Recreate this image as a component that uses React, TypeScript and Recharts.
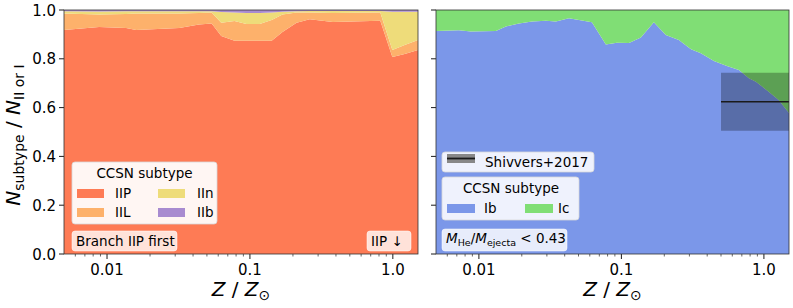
import React from 'react';
import { AreaChart, Area, XAxis, YAxis, ReferenceArea, ReferenceLine } from 'recharts';

// ---- data: left panel (Type II subtypes), fractions per metallicity ----
const zLeft = [0.005, 0.0088, 0.0136, 0.016, 0.032, 0.044, 0.054, 0.063, 0.078, 0.0945, 0.117, 0.142, 0.169, 0.212, 0.262, 0.38, 0.817, 0.992, 1.21, 1.5];
const fracIIP = [0.918, 0.93, 0.926, 0.918, 0.926, 0.941, 0.945, 0.893, 0.874, 0.874, 0.874, 0.874, 0.91, 0.948, 0.962, 0.951, 0.956, 0.807, 0.82, 0.836];
const fracIIL = [0.068, 0.052, 0.058, 0.068, 0.06, 0.047, 0.045, 0.055, 0.081, 0.069, 0.069, 0.085, 0.072, 0.042, 0.028, 0.037, 0.034, 0.029, 0.037, 0.041];
const fracIIn = [0.009, 0.012, 0.011, 0.009, 0.009, 0.007, 0.005, 0.044, 0.035, 0.045, 0.045, 0.031, 0.011, 0.005, 0.006, 0.008, 0.006, 0.157, 0.136, 0.116];
const fracIIb = [0.005, 0.006, 0.005, 0.005, 0.005, 0.005, 0.005, 0.008, 0.01, 0.012, 0.012, 0.01, 0.007, 0.005, 0.004, 0.004, 0.004, 0.007, 0.007, 0.007];

// ---- data: right panel (stripped-envelope subtypes) ----
const zRight = [0.005, 0.00724, 0.00879, 0.01316, 0.01546, 0.0191, 0.0236, 0.0295, 0.0347, 0.0428, 0.0621, 0.0778, 0.0929, 0.113, 0.137, 0.169, 0.205, 0.253, 0.308, 0.361, 0.446, 0.55, 0.668, 0.785, 0.879, 1.08, 1.27, 1.5];
const fracIb = [0.914, 0.917, 0.912, 0.914, 0.932, 0.945, 0.953, 0.956, 0.953, 0.966, 0.95, 0.859, 0.866, 0.865, 0.887, 0.95, 0.898, 0.877, 0.839, 0.823, 0.791, 0.77, 0.754, 0.72, 0.706, 0.665, 0.631, 0.578];
const fracIc = [0.086, 0.083, 0.088, 0.086, 0.068, 0.055, 0.047, 0.044, 0.047, 0.034, 0.05, 0.141, 0.134, 0.135, 0.113, 0.05, 0.102, 0.123, 0.161, 0.177, 0.209, 0.23, 0.246, 0.28, 0.294, 0.335, 0.369, 0.422];

// Shivvers+2017 observed Ib fraction (range and central value)
const shivZ = [0.5, 1.5];
const shivFrac = { low: 0.505, mid: 0.624, high: 0.743 };

// ---- axes ----
const zDomain = [0.005, 1.5];
const xMajorTicks = [0.01, 0.1, 1];
const xMinorTicks = [0.006, 0.007, 0.008, 0.009, 0.02, 0.03, 0.04, 0.05, 0.06, 0.07, 0.08, 0.09, 0.2, 0.3, 0.4, 0.5, 0.6, 0.7, 0.8, 0.9];
const xAllTicks = [...xMinorTicks, ...xMajorTicks].sort((a, b) => a - b);
const yTicks = [0, 0.2, 0.4, 0.6, 0.8, 1.0];

const leftData = zLeft.map((z, i) => ({ z, IIP: fracIIP[i], IIL: fracIIL[i], IIn: fracIIn[i], IIb: fracIIb[i] }));
const rightData = zRight.map((z, i) => ({ z, Ib: fracIb[i], Ic: fracIc[i] }));

const C = {
  IIP: '#fe7b55',
  IIL: '#fdb16b',
  IIn: '#eedc7a',
  IIb: '#a88bd0',
  Ib: '#7b97e9',
  Ic: '#80de75',
};

const FONT = 'DejaVu Sans';
const fmtX = (v: number) => (v === 1 ? '1.0' : String(v));

function XTick(props: any) {
  const { x, y, payload } = props;
  const v = payload.value;
  const major = xMajorTicks.some((m) => Math.abs(m - v) < 1e-9);
  return (
    <g>
      <line x1={x} x2={x} y1={y} y2={y + (major ? 5 : 2.5)} stroke="#000" strokeWidth={major ? 0.9 : 0.6} />
      {major && (
        <text x={x} y={y + 21} textAnchor="middle" fontSize={15} fontFamily={FONT} fill="#000">
          {fmtX(v)}
        </text>
      )}
    </g>
  );
}

function makeYTick(showLabel: boolean) {
  return function YTick(props: any) {
    const { x, y, payload } = props;
    return (
      <g>
        <line x1={x - 5} x2={x} y1={y} y2={y} stroke="#000" strokeWidth={0.9} />
        {showLabel && (
          <text x={x - 8} y={y + 5.5} textAnchor="end" fontSize={15} fontFamily={FONT} fill="#000">
            {payload.value.toFixed(1)}
          </text>
        )}
      </g>
    );
  };
}
const YTickLabeled = makeYTick(true);
const YTickBare = makeYTick(false);

function ZLabel({ cx }: { cx: number }) {
  return (
    <text x={cx} y={296} textAnchor="middle" fontSize={20} fontFamily={FONT} fill="#000">
      <tspan fontStyle="italic">Z</tspan>
      <tspan> / </tspan>
      <tspan fontStyle="italic">Z</tspan>
      <tspan fontSize={14} dy={4}>⊙</tspan>
    </text>
  );
}

export default function App() {
  return (
    <div style={{ position: 'absolute', left: 0, top: 0, width: 793, height: 308, background: '#fff', fontFamily: FONT }}>
      <div style={{ position: 'absolute', left: 0, top: 0 }}>
        <AreaChart width={793} height={308} data={leftData} margin={{ top: 10, right: 375, bottom: 24, left: 14 }}>
          <XAxis dataKey="z" type="number" scale="log" domain={zDomain} allowDataOverflow ticks={xAllTicks} interval={0}
            height={30} tickSize={0} tickMargin={0} tickLine={false} axisLine={false} tick={<XTick />} />
          <YAxis type="number" domain={[0, 1]} allowDataOverflow ticks={yTicks} interval={0}
            width={50} tickSize={0} tickMargin={0} tickLine={false} axisLine={false} tick={<YTickLabeled />} />
          <Area dataKey="IIP" stackId="a" type="linear" fill={C.IIP} fillOpacity={1} stroke="none" isAnimationActive={false} />
          <Area dataKey="IIL" stackId="a" type="linear" fill={C.IIL} fillOpacity={1} stroke="none" isAnimationActive={false} />
          <Area dataKey="IIn" stackId="a" type="linear" fill={C.IIn} fillOpacity={1} stroke="none" isAnimationActive={false} />
          <Area dataKey="IIb" stackId="a" type="linear" fill={C.IIb} fillOpacity={1} stroke="none" isAnimationActive={false} />
        </AreaChart>
      </div>
      <div style={{ position: 'absolute', left: 0, top: 0 }}>
        <AreaChart width={793} height={308} data={rightData} margin={{ top: 10, right: 4, bottom: 24, left: 426 }}>
          <XAxis dataKey="z" type="number" scale="log" domain={zDomain} allowDataOverflow ticks={xAllTicks} interval={0}
            height={30} tickSize={0} tickMargin={0} tickLine={false} axisLine={false} tick={<XTick />} />
          <YAxis type="number" domain={[0, 1]} allowDataOverflow ticks={yTicks} interval={0}
            width={10} tickSize={0} tickMargin={0} tickLine={false} axisLine={false} tick={<YTickBare />} />
          <Area dataKey="Ib" stackId="b" type="linear" fill={C.Ib} fillOpacity={1} stroke="none" isAnimationActive={false} />
          <Area dataKey="Ic" stackId="b" type="linear" fill={C.Ic} fillOpacity={1} stroke="none" isAnimationActive={false} />
          <ReferenceArea x1={shivZ[0]} x2={shivZ[1]} y1={shivFrac.low} y2={shivFrac.high} fill="#000" fillOpacity={0.28} stroke="none" ifOverflow="hidden" />
          <ReferenceLine
            segment={[{ x: shivZ[0], y: shivFrac.mid }, { x: shivZ[1], y: shivFrac.mid }]}
            stroke="#1a1a1a"
            strokeWidth={1.6}
          />
        </AreaChart>
      </div>
      <svg width={793} height={308} style={{ position: 'absolute', left: 0, top: 0, pointerEvents: 'none' }} fontFamily={FONT}>
        {/* frames */}
        <rect x={64} y={10} width={354} height={244} fill="none" stroke="#333" strokeWidth={0.8} />
        <rect x={436} y={10} width={353} height={244} fill="none" stroke="#333" strokeWidth={0.8} />

        {/* left legend */}
        <rect x={72} y={162} width={145} height={62} rx={3} fill="#fff" fillOpacity={0.93} stroke="#d8d8d8" strokeWidth={0.8} />
        <text x={144.5} y={178} textAnchor="middle" fontSize={13.5} fill="#000">CCSN subtype</text>
        <rect x={77} y={189} width={27} height={9} fill={C.IIP} />
        <text x={115} y={198} fontSize={13.5} fill="#000">IIP</text>
        <rect x={158} y={189} width={27} height={9} fill={C.IIn} />
        <text x={197} y={198} fontSize={13.5} fill="#000">IIn</text>
        <rect x={77} y={208} width={27} height={9} fill={C.IIL} />
        <text x={115} y={217} fontSize={13.5} fill="#000">IIL</text>
        <rect x={158} y={208} width={27} height={9} fill={C.IIb} />
        <text x={197} y={217} fontSize={13.5} fill="#000">IIb</text>

        {/* left annotations */}
        <rect x={72} y={231} width={105} height={20} rx={3} fill="#fff" fillOpacity={0.78} stroke="#fff" strokeOpacity={0.5} />
        <text x={76} y={246} fontSize={13.5} fill="#000">Branch IIP first</text>
        <rect x={367} y={231} width={44} height={20} rx={3} fill="#fff" fillOpacity={0.78} stroke="#fff" strokeOpacity={0.5} />
        <text x={371} y={246} fontSize={13.5} fill="#000">IIP  ↓</text>

        {/* right legends */}
        <rect x={442} y={152} width={152} height={20} rx={3} fill="#fff" fillOpacity={0.88} stroke="#d8d8d8" strokeWidth={0.8} />
        <rect x={447} y={154} width={28} height={9} fill="#888" />
        <line x1={447} x2={475} y1={158.5} y2={158.5} stroke="#1a1a1a" strokeWidth={1.8} />
        <text x={485} y={167} fontSize={13.5} fill="#000">Shivvers+2017</text>

        <rect x={442} y={177} width={137} height={43} rx={3} fill="#fff" fillOpacity={0.88} stroke="#d8d8d8" strokeWidth={0.8} />
        <text x={511} y={193} textAnchor="middle" fontSize={13.5} fill="#000">CCSN subtype</text>
        <rect x={447} y={204} width={28} height={9} fill={C.Ib} />
        <text x={484} y={213} fontSize={13.5} fill="#000">Ib</text>
        <rect x={525} y={204} width={28} height={9} fill={C.Ic} />
        <text x={558} y={213} fontSize={13.5} fill="#000">Ic</text>

        <rect x={442} y={229} width={125} height={22} rx={3} fill="#fff" fillOpacity={0.82} stroke="#fff" strokeOpacity={0.5} />
        <text x={446} y={243} fontSize={13.5} fill="#000">
          <tspan fontStyle="italic">M</tspan>
          <tspan fontSize={9.5} dy={3}>He</tspan>
          <tspan dy={-3}>/</tspan>
          <tspan fontStyle="italic">M</tspan>
          <tspan fontSize={9.5} dy={3}>ejecta</tspan>
          <tspan dy={-3}> &lt; 0.43</tspan>
        </text>

        {/* axis labels */}
        <ZLabel cx={241} />
        <ZLabel cx={612.5} />
        <text x={20} y={135} transform="rotate(-90 20 135)" textAnchor="middle" fontSize={20} fill="#000">
          <tspan fontStyle="italic">N</tspan>
          <tspan fontSize={14} dy={4}>subtype</tspan>
          <tspan dy={-4}> / </tspan>
          <tspan fontStyle="italic">N</tspan>
          <tspan fontSize={14} dy={4}>II or I</tspan>
        </text>
      </svg>
    </div>
  );
}
